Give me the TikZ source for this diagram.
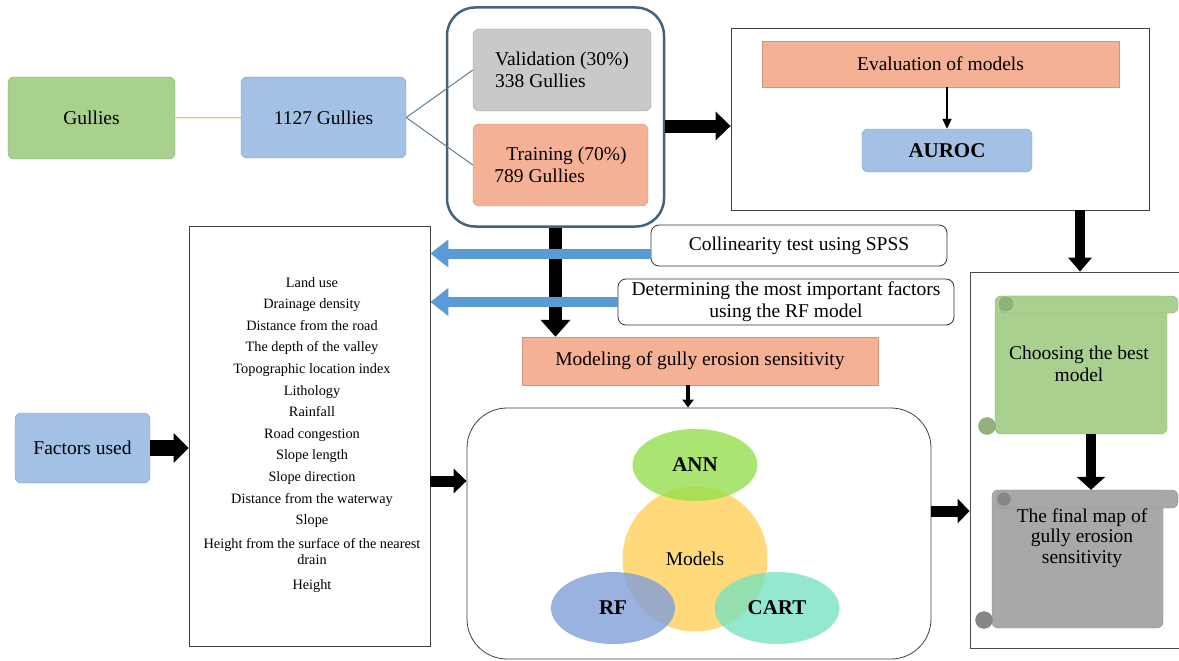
\documentclass[tikz,border=0pt]{standalone}
\usepackage{fontspec}
\setmainfont{Liberation Serif}
\usepackage{xcolor}
\usepackage{tikz}
\usetikzlibrary{arrows.meta,positioning,shapes.geometric}

\definecolor{boxgreen}{HTML}{A9D18E}
\definecolor{boxblue}{HTML}{A3C1E5}
\definecolor{boxgray}{HTML}{C9C9C9}
\definecolor{boxorange}{HTML}{F5B195}
\definecolor{framecol}{HTML}{44627C}
\definecolor{splitcol}{HTML}{5D7F99}
\definecolor{linkyellow}{HTML}{EFC86A}
\definecolor{arrowblue}{HTML}{5B9BD5}
\definecolor{anncol}{HTML}{96DE4E}
\definecolor{modcol}{HTML}{FFD97A}
\definecolor{rfcol}{HTML}{7F9FD8}
\definecolor{cartcol}{HTML}{72E0C0}
\definecolor{scrollgreen}{HTML}{A9D08E}
\definecolor{scrollgray}{HTML}{A8A8A8}

\begin{document}
\begin{tikzpicture}[x=1pt, y=-1pt,
    every node/.style={font=\fontsize{19.5}{22}\selectfont, inner sep=0pt},
    colbox/.style={draw=#1!80!black, fill=#1, rounded corners=6pt},
    plainbox/.style={draw=black!75, line width=0.8pt},
    notebox/.style={draw=black!80, fill=white, rounded corners=8pt, line width=0.8pt},
    boldtext/.style={font=\fontsize{21}{24}\selectfont\bfseries},
    blockarrow/.style n args={3}{line width=#1, -{Triangle[length=#2,width=#3]}},
    bluearrow/.style={arrowblue, line width=10pt, -{Triangle[length=18pt,width=27pt]}},
    thinarrow/.style={line width=2pt, -{Triangle[length=10pt,width=9pt]}},
    scrollpart/.style={draw=#1!85!black, fill=#1, rounded corners=6pt}]

    \useasboundingbox (0,0) rectangle (1179,661);

    % Gullies
    \node[colbox=boxgreen, minimum width=167pt, minimum height=82pt] (gullies) at (91.5,118) {Gullies};
    \node[colbox=boxblue, minimum width=165pt, minimum height=81pt] (allgul) at (323.5,117.5) {1127 Gullies};
    \draw[linkyellow, line width=1.2pt] (gullies) -- (allgul);

    % Validation and training
    \node[draw=framecol, line width=2.5pt, rounded corners=28pt, minimum width=217pt, minimum height=219pt] (splitbox) at (555.5,117) {};
    \node[colbox=boxgray, align=left, minimum width=178pt, minimum height=82pt] (valid) at (562,70) {Validation (30\%)\\338 Gullies};
    \node[colbox=boxorange, align=left, minimum width=175pt, minimum height=82pt] (train) at (560.5,165) {\hspace*{12pt}Training (70\%)\\789 Gullies};
    \draw[splitcol, line width=1pt] (allgul.east) -- (valid.west);
    \draw[splitcol, line width=1pt] (allgul.east) -- (train.west);

    % Evaluation
    \node[plainbox, minimum width=418pt, minimum height=182pt] (evalbox) at (940,119) {};
    \node[fill=boxorange, draw=boxorange!85!black, minimum width=357pt, minimum height=46pt] (evalbar) at (940.5,64) {Evaluation of models};
    \node[colbox=boxblue, boldtext, minimum width=170pt, minimum height=43pt] (auroc) at (947,150.5) {AUROC};
    \draw[thinarrow] (auroc.north |- evalbar.south) -- (auroc.north);
    \draw[blockarrow={13pt}{15pt}{28pt}] ([yshift=-9pt]splitbox.east) -- ([yshift=-9pt]splitbox.east -| evalbox.west);

    % Factors
    \node[colbox=boxblue, minimum width=135pt, minimum height=70pt] (factors) at (82.5,448) {Factors used};
    \node[plainbox, minimum width=241pt, minimum height=420pt] (factbox) at (309.5,436) {};
    \node[font=\fontsize{14.3}{21.6}\selectfont, align=center] (factlist) at (312,435) {Land use\\Drainage density\\Distance from the road\\The depth of the valley\\Topographic location index\\Lithology\\Rainfall\\Road congestion\\Slope length\\Slope direction\\Distance from the waterway\\Slope\\[2.4pt]Height from the surface of the nearest\\[-5.6pt]drain\\[3.4pt]Height};
    \draw[blockarrow={16pt}{15pt}{29pt}] (factors.east) -- (factors.east -| factbox.west);

    % Modeling
    \node[fill=boxorange, draw=boxorange!85!black, minimum width=356pt, minimum height=48pt] (modelbox) at (700,361) {Modeling of gully erosion sensitivity};
    \draw[blockarrow={13pt}{17pt}{29pt}] (splitbox.south) -- (splitbox.south |- modelbox.north);

    % Collinearity and RF selection
    \node[notebox, minimum width=296pt, minimum height=41pt] (collin) at (799,245.5) {Collinearity test using SPSS};
    \node[notebox, minimum width=336pt, minimum height=46pt, align=center] (rfsel) at (786,302) {Determining the most important factors\\using the RF model};
    \draw[bluearrow] ([yshift=-8pt]collin.west) -- ([yshift=-8pt]collin.west -| factbox.east);
    \draw[bluearrow] (rfsel.west) -- (rfsel.west -| factbox.east);

    % Models
    \node[plainbox, rounded corners=40pt, minimum width=464pt, minimum height=251pt] (modelsbox) at (699,533.5) {};
    \draw[line width=4pt, -{Triangle[length=8pt,width=11pt]}] ([xshift=-12pt]modelbox.south) -- ([xshift=-12pt]modelbox.south |- modelsbox.north);
    \draw[blockarrow={11pt}{13pt}{24pt}] ([yshift=-45pt]factbox.east) -- ([yshift=-45pt]factbox.east -| modelsbox.west);
    \node[circle, fill=modcol, minimum size=145pt] (models) at (695,559) {};
    \node[ellipse, fill=anncol, fill opacity=0.8, minimum width=125pt, minimum height=72pt] (ann) at (695,465) {};
    \node[ellipse, fill=rfcol, fill opacity=0.8, minimum width=124pt, minimum height=72pt] (rf) at (613,608) {};
    \node[ellipse, fill=cartcol, fill opacity=0.75, minimum width=125pt, minimum height=72pt] (cart) at (777,608) {};
    \node at (models) {Models};
    \node[boldtext] at (ann) {ANN};
    \node[boldtext] at (rf) {RF};
    \node[boldtext] at (cart) {CART};

    % Best model and final map
    \node[draw=black!70, line width=0.8pt, minimum width=220pt, minimum height=376pt] (rightbox) at (1080,460) {};
    \draw[blockarrow={10pt}{14pt}{23pt}] (rightbox.north |- evalbox.south) -- (rightbox.north);
    \draw[blockarrow={11pt}{12pt}{24pt}] ([yshift=22.5pt]modelsbox.east) -- ([yshift=22.5pt]modelsbox.east -| rightbox.west);

    \node[scrollpart=scrollgreen, minimum width=172pt, minimum height=138pt] (bestscroll) at (1081,365) {};
    \draw[scrollpart=scrollgreen] (1000,296) rectangle (1178,313);
    \filldraw[draw=scrollgreen!80!black, fill=scrollgreen!85!black] (1006,304) circle (7pt);
    \filldraw[draw=scrollgreen!80!black, fill=scrollgreen!85!black] (987,426) circle (8.5pt);
    \node[align=center] (bestmodel) at (1079,364) {Choosing the best\\model};

    \node[scrollpart=scrollgray, minimum width=171pt, minimum height=138pt] (finalscroll) at (1077.5,559) {};
    \draw[scrollpart=scrollgray] (997,490) rectangle (1178,508);
    \filldraw[draw=scrollgray!80!black, fill=scrollgray!80!black] (1004,499) circle (6.5pt);
    \filldraw[draw=scrollgray!80!black, fill=scrollgray!80!black] (984,620) circle (8.5pt);
    \node[align=center, font=\fontsize{19.5}{20.5}\selectfont] (finalmap) at (1082,538) {The final map of\\gully erosion\\sensitivity};
    \draw[blockarrow={10pt}{13pt}{28pt}] ([xshift=10pt]bestscroll.south) -- ([xshift=10pt]bestscroll.south |- finalscroll.north);
\end{tikzpicture}
\end{document}
